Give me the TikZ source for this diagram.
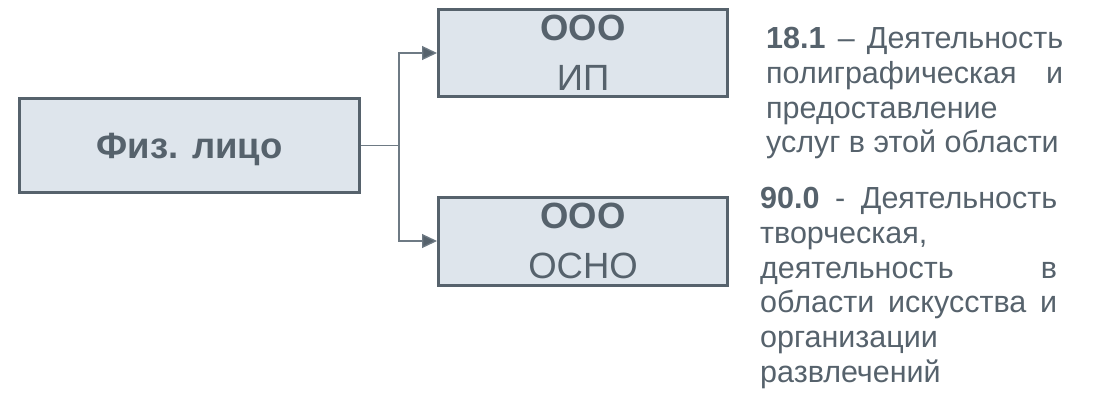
\documentclass[tikz,border=0pt]{standalone}
\usepackage{fontspec}
\setmainfont{Liberation Sans}
\usetikzlibrary{positioning,arrows.meta}
\definecolor{slate}{HTML}{56626C}
\definecolor{slatelight}{HTML}{6E7A84}
\definecolor{boxfill}{HTML}{DEE5EC}
\tikzstyle{bordered} = [align=center,draw=slate,fill=boxfill,line width=3pt,text=slate,inner sep=0,font=\fontsize{36.5}{50}\selectfont]
\tikzstyle{arrow} = [-{Triangle[length=15pt,width=14pt,fill=slate]},draw=slatelight,line width=1.3pt]
\tikzstyle{okved} = [anchor=north west,align=left,text=slate,inner sep=0,font=\fontsize{30.5}{34.7}\selectfont]
\newcommand{\jline}[1]{\hbox to 297pt{#1}}

\begin{document}
\begin{tikzpicture}[x=1pt,y=1pt]
    \useasboundingbox (0,0) rectangle (1094,-392);
    \node [bordered,minimum width=340,minimum height=94,text depth=0pt] (person) at (189.5,-145.5) {\textbf{Физ. лицо}};
    \node [bordered,minimum width=289,minimum height=87] (ip) at (583,-53) {\textbf{ООО}\\ИП};
    \node [bordered,minimum width=289,minimum height=88] (osno) at (583,-241) {\textbf{ООО}\\ОСНО};
    \coordinate (fork) at (399,-145.5);

    \draw [draw=slatelight,line width=1.3pt] (person.east) -- (fork);
    \draw [arrow] (fork) |- (ip.west);
    \draw [arrow] (fork) |- (osno.west);

    \node [okved] (okved1) at (766,-27.1) {\jline{\textbf{18.1}\hfill–\hfill Деятельность}\\
      \jline{полиграфическая\hfill и}\\
      предоставление\\
      услуг в этой области};
    \node [okved] (okved2) at (760,-187.1) {\jline{\textbf{90.0}\hfill-\hfill Деятельность}\\
      творческая,\\
      \jline{деятельность\hfill в}\\
      \jline{области\hfill искусства\hfill и}\\
      организации\\
      развлечений};
  \end{tikzpicture}
\end{document}
